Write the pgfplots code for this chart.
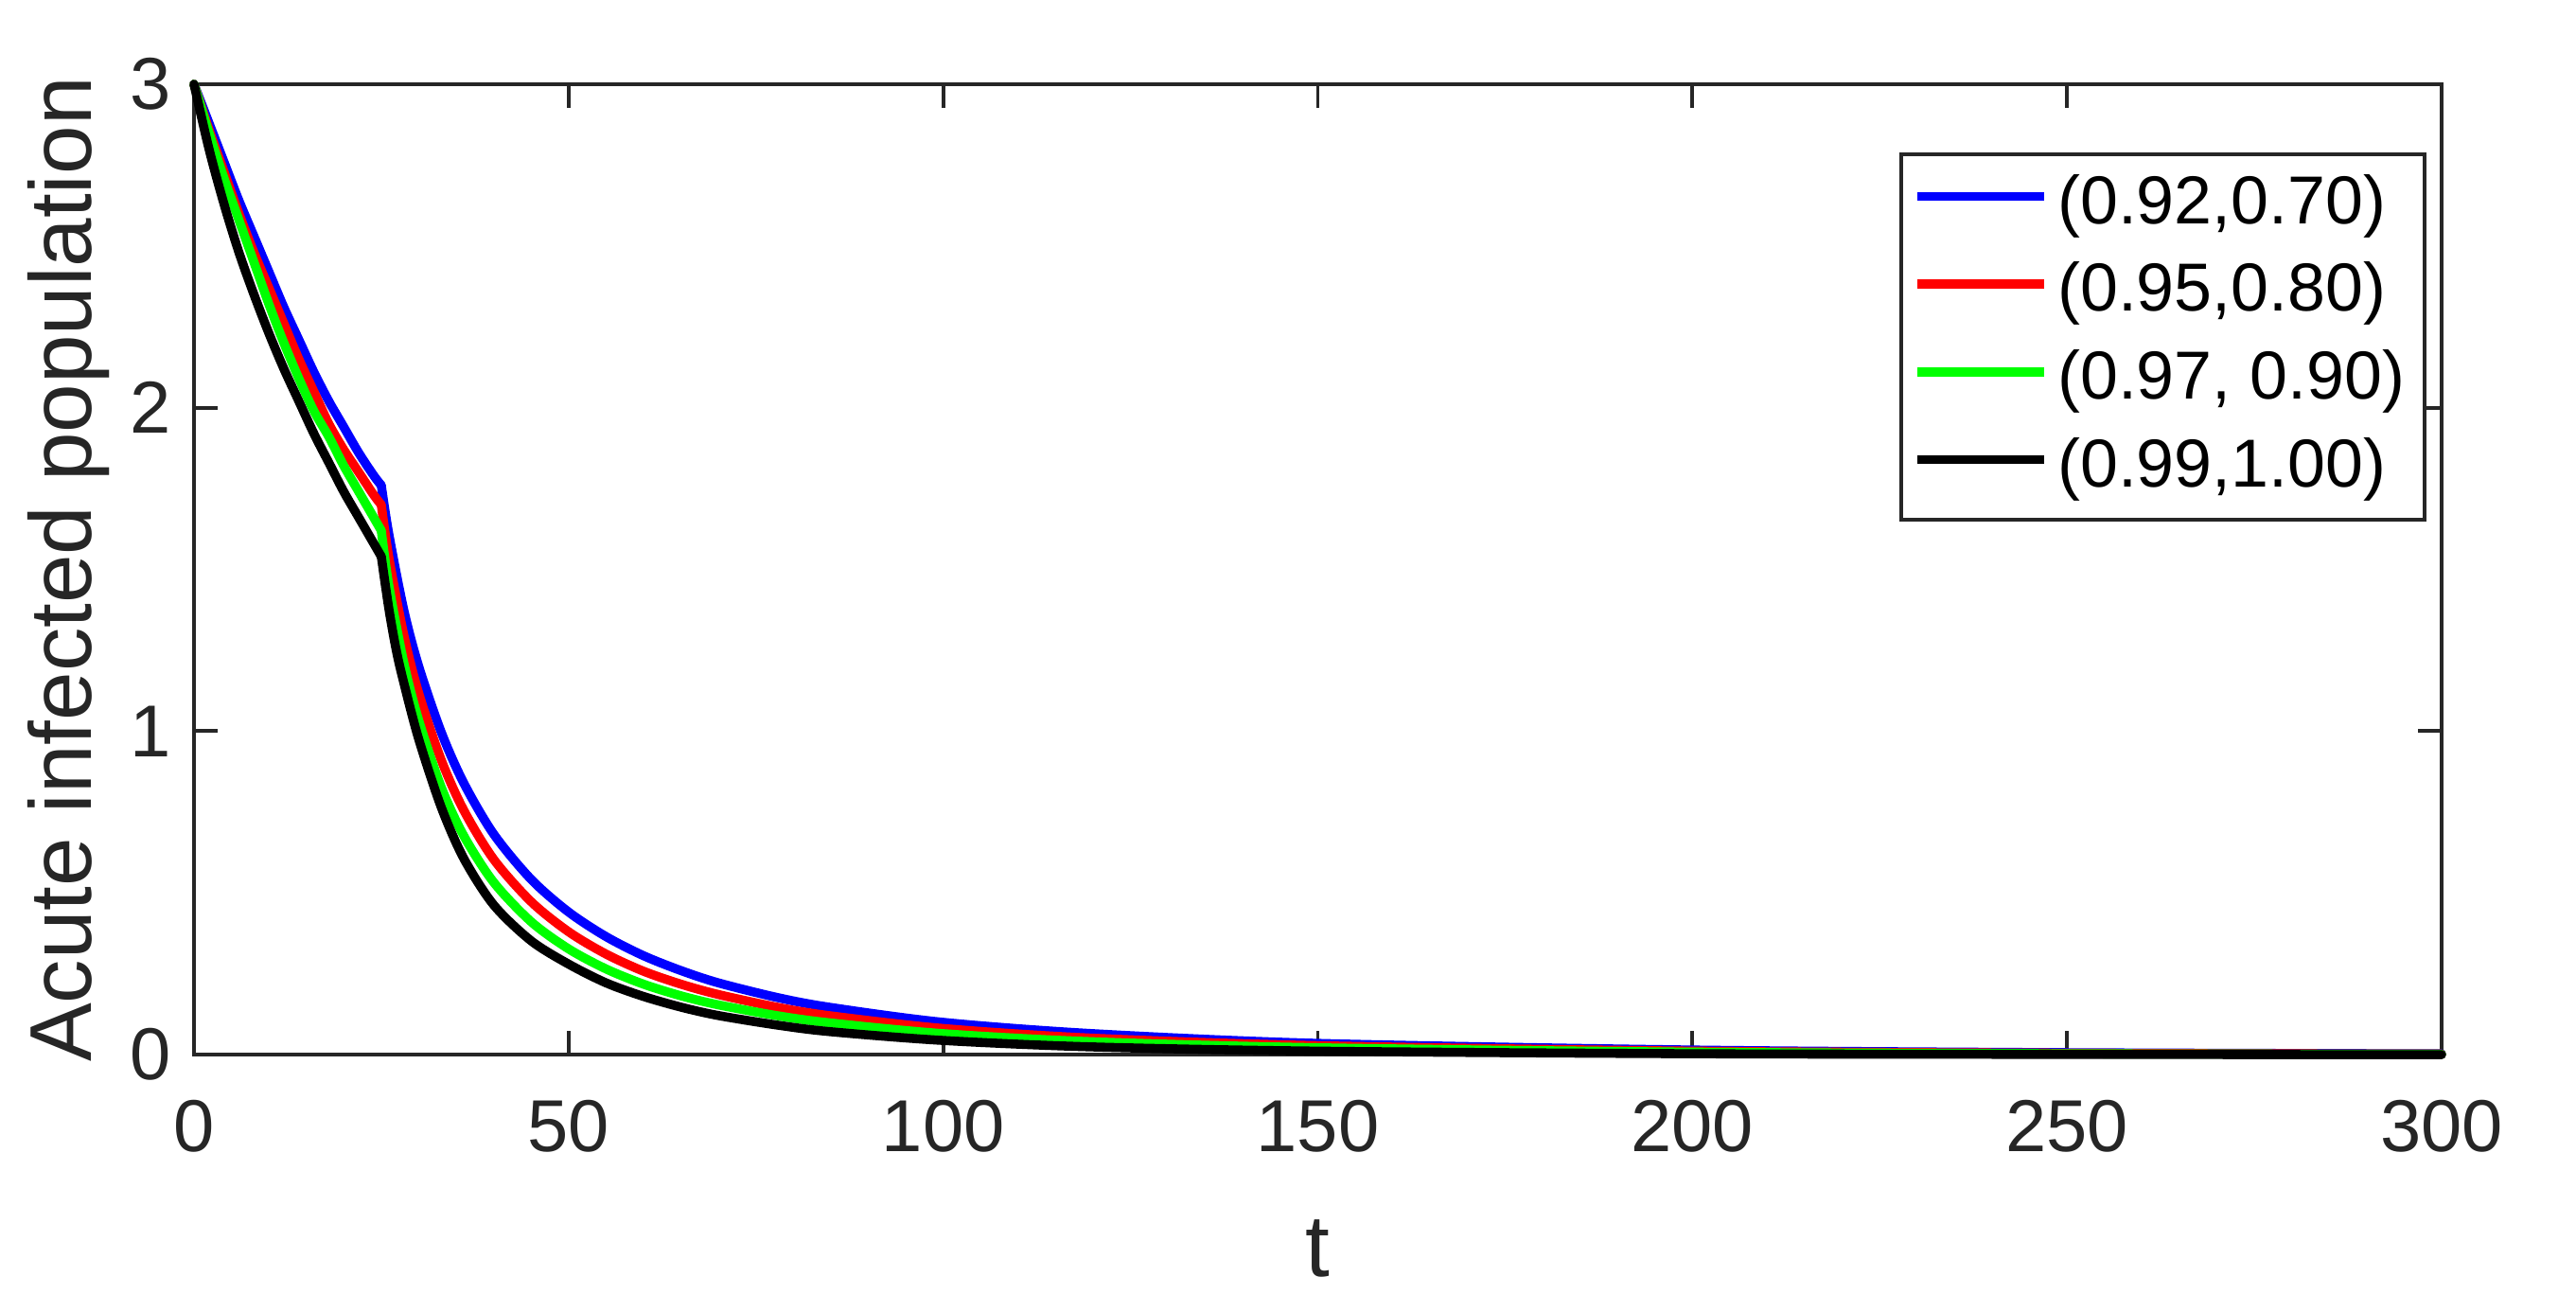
\documentclass[border=0pt]{standalone}
\usepackage{fontspec}
\setmainfont{Liberation Sans}
\usepackage{pgfplots}
\pgfplotsset{compat=1.18}
\definecolor{axisgray}{RGB}{38,38,38}
\definecolor{mblue}{RGB}{0,0,255}
\definecolor{mred}{RGB}{255,0,0}
\definecolor{mgreen}{RGB}{0,255,0}

\begin{document}
\begin{tikzpicture}
\path[use as bounding box] (-1.205,-1.487) rectangle (14.795,6.549);
\begin{axis}[
  at={(0,0)}, anchor=south west,
  width=13.96cm, height=6.026cm, scale only axis,
  xmin=0, xmax=300, ymin=0, ymax=3,
  xtick={0,50,100,150,200,250,300},
  ytick={0,1,2,3},
  tick align=inside,
  major tick length=0.147cm,
  axis line style={axisgray, line width=0.65pt},
  every tick/.style={axisgray, line width=0.65pt},
  tick label style={font=\fontsize{13}{15}\selectfont, text=axisgray},
  /pgf/number format/assume math mode=true,
  xticklabel style={yshift=-0.16cm},
  yticklabel style={xshift=-0.02cm},
  xlabel={t}, ylabel={Acute infected population},
  label style={font=\fontsize{15.5}{18}\selectfont, text=axisgray},
  xlabel style={at={(axis description cs:0.5,-0.2)}, anchor=center},
  ylabel style={at={(axis description cs:-0.0556,0.5)}, anchor=center},
  clip=false,
  every axis plot/.append style={line width=1.6pt, line cap=round, line join=round},
  legend style={at={(rel axis cs:0.9933,0.930)}, anchor=north east,
    draw=axisgray, line width=0.65pt, fill=white,
    font=\fontsize{12}{14}\selectfont,
    inner xsep=2pt, inner ysep=1.3pt, row sep=0pt,
    nodes={inner xsep=1.5pt, inner ysep=0pt, text height=11pt, text depth=4.5pt},
    cells={anchor=west}},
  legend image code/.code={\draw[#1, line width=1.6pt, line cap=butt] (0cm,0.055cm) -- (0.79cm,0.055cm);},
]

% (0.92,0.70): before and after the switch at t = 25
\addplot[mblue, smooth, tension=0.5] coordinates {
 (0,3.00)(2,2.88)(4,2.76)(6,2.64)(8,2.53)(10,2.42)(12,2.31)(14,2.21)(16,2.11)(18,2.02)(20,1.94)(22,1.86)(24,1.79)(25,1.76)
};
\addlegendentry{(0.92,0.70)}
\addplot[mblue, smooth, tension=0.5, forget plot] coordinates {
 (25,1.76)(26,1.61)(28,1.375)(30,1.20)(33,0.997)(36,0.84)(40,0.682)(45,0.542)(50,0.441)(55,0.365)(60,0.306)(65,0.26)
 (70,0.222)(78,0.176)(85,0.146)(100,0.10)(120,0.065)(150,0.035)(200,0.0145)(250,0.0062)(300,0.0027)
};

% (0.95,0.80)
\addplot[mred, smooth, tension=0.5] coordinates {
 (0,3.00)(2,2.86)(4,2.73)(6,2.60)(8,2.48)(10,2.37)(12,2.26)(14,2.15)(16,2.05)(18,1.95)(20,1.87)(22,1.80)(24,1.73)(25,1.70)
};
\addlegendentry{(0.95,0.80)}
\addplot[mred, smooth, tension=0.5, forget plot] coordinates {
 (25,1.70)(26,1.538)(28,1.298)(30,1.117)(33,0.911)(36,0.756)(40,0.604)(45,0.473)(50,0.38)(55,0.311)(60,0.258)(65,0.218)
 (70,0.186)(78,0.146)(85,0.12)(100,0.081)(120,0.051)(150,0.028)(200,0.011)(250,0.0045)(300,0.0018)
};

% (0.97, 0.90)
\addplot[mgreen, smooth, tension=0.5] coordinates {
 (0,3.00)(2,2.85)(4,2.71)(6,2.58)(8,2.45)(10,2.32)(12,2.20)(14,2.09)(16,1.99)(18,1.91)(20,1.82)(22,1.74)(24,1.66)(25,1.62)
};
\addlegendentry{(0.97, 0.90)}
\addplot[mgreen, smooth, tension=0.5, forget plot] coordinates {
 (25,1.62)(26,1.451)(28,1.212)(30,1.033)(33,0.827)(36,0.677)(40,0.533)(45,0.411)(50,0.327)(55,0.265)(60,0.218)(65,0.182)
 (70,0.154)(78,0.12)(85,0.098)(100,0.065)(120,0.04)(150,0.0215)(200,0.0079)(250,0.003)(300,0.0011)
};

% (0.99,1.00)
\addplot[black, smooth, tension=0.5] coordinates {
 (0,3.00)(2,2.80)(4,2.63)(6,2.48)(8,2.35)(10,2.23)(12,2.12)(14,2.02)(16,1.92)(18,1.83)(20,1.74)(22,1.66)(24,1.58)(25,1.54)
};
\addlegendentry{(0.99,1.00)}
\addplot[black, smooth, tension=0.5, forget plot] coordinates {
 (25,1.54)(26,1.38)(27,1.25)(28,1.15)(30,0.975)(33,0.765)(36,0.607)(40,0.463)(45,0.352)(50,0.28)(55,0.222)(60,0.18)(65,0.147)
 (70,0.121)(78,0.091)(85,0.071)(100,0.044)(120,0.024)(150,0.011)(200,0.003)(250,0.001)(300,0)
};

\end{axis}
\end{tikzpicture}
\end{document}
